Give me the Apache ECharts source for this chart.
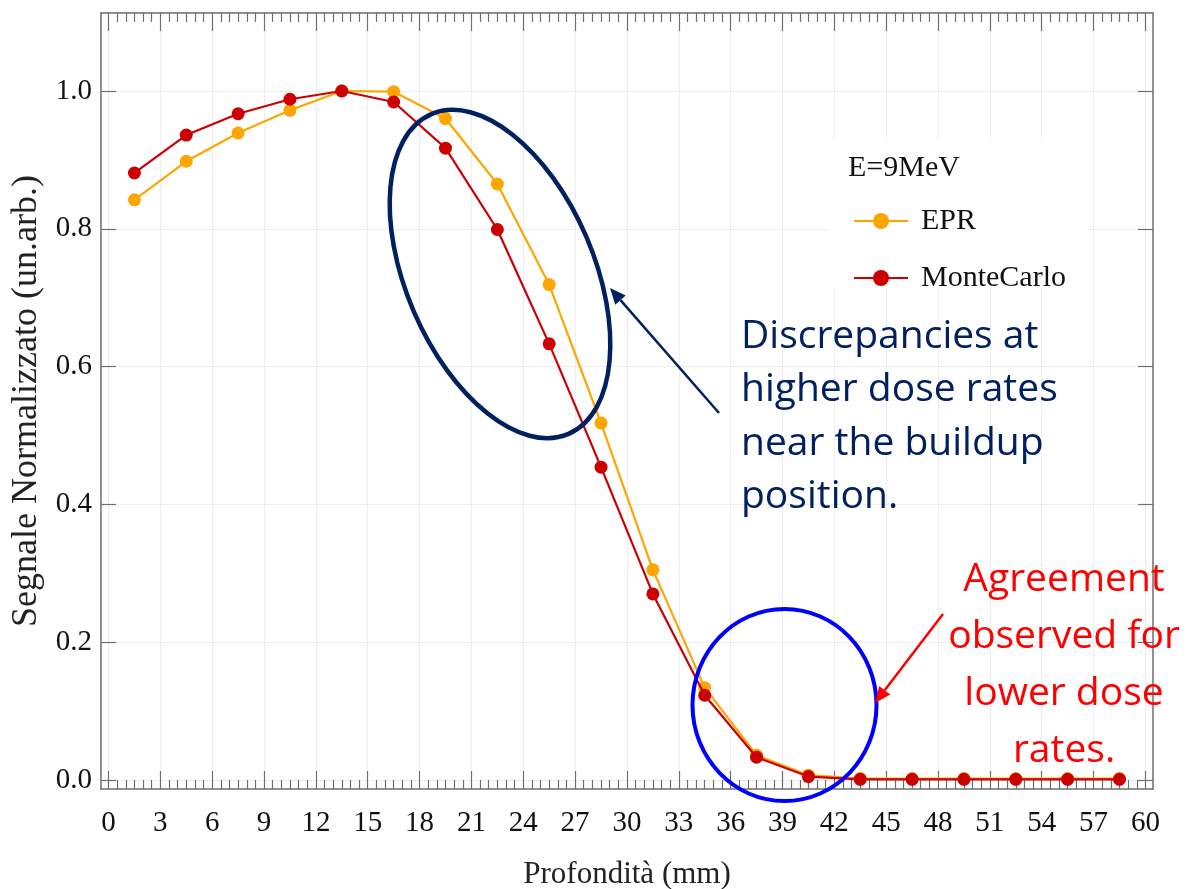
<!DOCTYPE html>
<html>
<head>
<meta charset="utf-8">
<title>Profondità – Segnale Normalizzato</title>
<script src="https://cdn.jsdelivr.net/npm/echarts@6/dist/echarts.min.js"></script>
<style>
  html, body { margin: 0; padding: 0; background: #fff; }
  #chart { width: 1194px; height: 889px; }
</style>
</head>
<body>
<div id="chart"></div>
<script>
// Depth (mm) of each measurement point
const depth = [1.5, 4.5, 7.5, 10.5, 13.5, 16.5, 19.5, 22.5, 25.5, 28.5,
               31.5, 34.5, 37.5, 40.5, 43.5, 46.5, 49.5, 52.5, 55.5, 58.5];
// Normalised signal, EPR measurement
const epr = [0.842, 0.898, 0.939, 0.972, 1.000, 0.999, 0.960, 0.865, 0.719, 0.518,
             0.305, 0.134, 0.036, 0.007, 0.002, 0.002, 0.002, 0.002, 0.002, 0.002];
// Normalised signal, Monte Carlo simulation
const monteCarlo = [0.881, 0.936, 0.967, 0.988, 1.000, 0.984, 0.917, 0.799, 0.633, 0.454,
                    0.270, 0.123, 0.033, 0.005, 0.001, 0.001, 0.001, 0.001, 0.001, 0.001];

// Tick positions
const xMajorTicks = [0, 3, 6, 9, 12, 15, 18, 21, 24, 27, 30, 33, 36, 39, 42, 45, 48, 51, 54, 57, 60];
const xMinorTicks = [];
for (let v = 0.5; v < 60; v += 0.5) { if (v % 3 !== 0) xMinorTicks.push(v); }
const yMajorTicks = [0, 0.2, 0.4, 0.6, 0.8, 1.0];

// Axis extents (the frame sits slightly outside the 0–60 / 0–1 data range)
const X_MIN = -0.434, X_MAX = 60.44;
const Y_MIN = -0.0131, Y_MAX = 1.1132;

const SERIF = '"Liberation Serif", "Times New Roman", serif';
const SANS = '"Open Sans", "Noto Sans", sans-serif';
const AXIS_COLOR = '#6e6e6e';
const NAVY = '#002060';
const RED = '#ff0000';

const chart = echarts.init(document.getElementById('chart'), null, { renderer: 'canvas' });

function frameX(position, ticks, length, opts) {
  return Object.assign({
    type: 'value', position: position, min: X_MIN, max: X_MAX,
    axisLine: { show: true, onZero: false, lineStyle: { color: AXIS_COLOR, width: 1.5 } },
    axisTick: { show: true, inside: true, length: length, customValues: ticks,
                lineStyle: { color: AXIS_COLOR, width: 1.2 } },
    axisLabel: { show: false },
    splitLine: { show: false }
  }, opts || {});
}

function arrow(x1, y1, x2, y2, color, width, headLen, headHalf) {
  const dx = x2 - x1, dy = y2 - y1, L = Math.hypot(dx, dy);
  const ux = dx / L, uy = dy / L;
  const bx = x2 - ux * headLen, by = y2 - uy * headLen;
  return [
    { type: 'line', z: 100, shape: { x1: x1, y1: y1, x2: bx, y2: by },
      style: { stroke: color, lineWidth: width } },
    { type: 'polygon', z: 100,
      shape: { points: [[x2, y2], [bx - uy * headHalf, by + ux * headHalf], [bx + uy * headHalf, by - ux * headHalf]] },
      style: { fill: color } }
  ];
}

function textLine(str, x, y, color, align) {
  return { type: 'text', z: 100, x: x, y: y,
           style: { text: str, fill: color, font: '39px ' + SANS, align: align, verticalAlign: 'middle' } };
}

const option = {
  animation: false,
  backgroundColor: '#ffffff',
  grid: { left: 101, right: 41, top: 13, bottom: 100, containLabel: false, outerBoundsMode: 'none' },
  title: {
    text: 'E=9MeV', left: 848, top: 153, padding: 0,
    textStyle: { fontFamily: SERIF, fontSize: 30, fontWeight: 'normal', color: '#111' }
  },
  legend: {
    data: ['EPR', 'MonteCarlo'], orient: 'vertical', left: 853, top: 206,
    itemWidth: 54, itemHeight: 20, itemGap: 27, padding: 0,
    textStyle: { fontFamily: SERIF, fontSize: 30, color: '#111', lineHeight: 20, padding: [0, 0, 0, 8] }
  },
  xAxis: [
    frameX('bottom', xMajorTicks, 18, {
      axisLabel: { show: true, customValues: xMajorTicks, margin: 20,
                   fontFamily: SERIF, fontSize: 29, color: '#111' },
      splitLine: { show: true, lineStyle: { color: '#eeeeee', width: 1 } },
      name: 'Profondità (mm)', nameLocation: 'middle', nameGap: 70,
      nameTextStyle: { fontFamily: SERIF, fontSize: 31, color: '#222' }
    }),
    frameX('bottom', xMinorTicks, 9, { axisLine: { show: false, onZero: false } }),
    frameX('top', xMajorTicks, 18),
    frameX('top', xMinorTicks, 9, { axisLine: { show: false, onZero: false } })
  ],
  yAxis: [
    {
      type: 'value', position: 'left', min: Y_MIN, max: Y_MAX,
      axisLine: { show: true, onZero: false, lineStyle: { color: AXIS_COLOR, width: 1.5 } },
      axisTick: { show: true, inside: true, length: 15, customValues: yMajorTicks,
                  lineStyle: { color: AXIS_COLOR, width: 1.2 } },
      axisLabel: { show: true, customValues: yMajorTicks, margin: 9,
                   formatter: v => v.toFixed(1), fontFamily: SERIF, fontSize: 29, color: '#111' },
      splitLine: { show: true, lineStyle: { color: '#eeeeee', width: 1 } },
      name: 'Segnale Normalizzato (un.arb.)', nameLocation: 'middle', nameGap: 54,
      nameTextStyle: { fontFamily: SERIF, fontSize: 36, color: '#222' }
    },
    {
      type: 'value', position: 'right', min: Y_MIN, max: Y_MAX,
      axisLine: { show: true, onZero: false, lineStyle: { color: AXIS_COLOR, width: 1.5 } },
      axisTick: { show: true, inside: true, length: 15, customValues: yMajorTicks,
                  lineStyle: { color: AXIS_COLOR, width: 1.2 } },
      axisLabel: { show: false },
      splitLine: { show: false }
    }
  ],
  series: [
    {
      name: 'EPR', type: 'line', xAxisIndex: 0, yAxisIndex: 0, z: 3,
      data: depth.map((d, i) => [d, epr[i]]),
      symbol: 'circle', symbolSize: 13, showSymbol: true,
      lineStyle: { color: '#ffa500', width: 2.2 },
      itemStyle: { color: '#ffa500' }
    },
    {
      name: 'MonteCarlo', type: 'line', xAxisIndex: 0, yAxisIndex: 0, z: 4,
      data: depth.map((d, i) => [d, monteCarlo[i]]),
      symbol: 'circle', symbolSize: 13, showSymbol: true,
      lineStyle: { color: '#cc0000', width: 2.2 },
      itemStyle: { color: '#cc0000' }
    }
  ],
  graphic: [
    // white backing behind the legend block
    { type: 'rect', z: 1, shape: { x: 828, y: 140, width: 260, height: 148 }, style: { fill: '#ffffff' } },
    // callout around the fall-off region
    { type: 'ellipse', z: 100, x: 500, y: 274, rotation: 0.405,
      shape: { cx: 0, cy: 0, rx: 94, ry: 174 },
      style: { fill: 'none', stroke: NAVY, lineWidth: 4.5 } },
    ...arrow(719, 413, 610, 288, NAVY, 2.5, 16, 7),
    textLine('Discrepancies at', 741, 337, NAVY, 'left'),
    textLine('higher dose rates', 741, 390, NAVY, 'left'),
    textLine('near the buildup', 741, 444, NAVY, 'left'),
    textLine('position.', 741, 497, NAVY, 'left'),
    // callout around the tail
    { type: 'ellipse', z: 100, x: 784.5, y: 705,
      shape: { cx: 0, cy: 0, rx: 92, ry: 96 },
      style: { fill: 'none', stroke: '#0000ff', lineWidth: 4 } },
    ...arrow(943, 614, 875, 703, RED, 2.5, 16, 7),
    textLine('Agreement', 1064, 580, RED, 'center'),
    textLine('observed for', 1064, 637, RED, 'center'),
    textLine('lower dose', 1064, 694, RED, 'center'),
    textLine('rates.', 1064, 751, RED, 'center')
  ]
};

chart.setOption(option);
</script>
</body>
</html>
